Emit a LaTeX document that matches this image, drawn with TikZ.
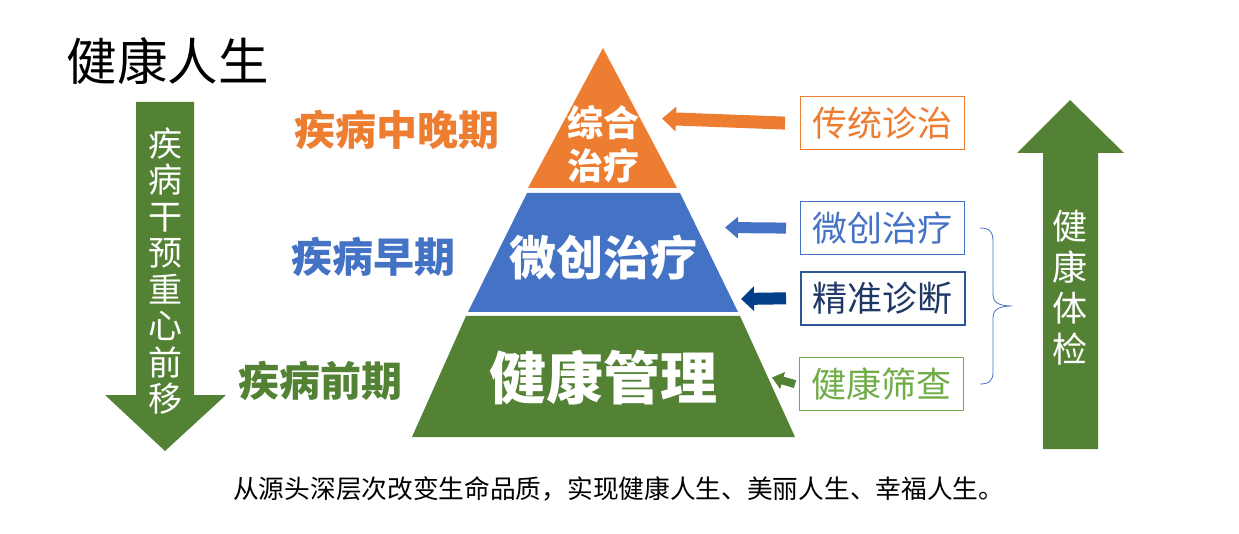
\documentclass[tikz,border=0pt]{standalone}
\usepackage{fontspec}
\setmainfont{Noto Sans CJK SC}
\usetikzlibrary{arrows.meta}
\definecolor{cor}{HTML}{ED7D31}
\definecolor{cbl}{HTML}{4472C4}
\definecolor{cgr}{HTML}{548235}
\definecolor{clg}{HTML}{70AD47}
\definecolor{cdb}{HTML}{033F88}
\definecolor{cdbb}{HTML}{2F5597}
\definecolor{cdbt}{HTML}{1F3864}
\newcommand\myfs[2]{\fontsize{#1}{#2}\selectfont}
\tikzset{
  lbox/.style={draw=#1, line width=1.2pt, minimum width=164pt, minimum height=53pt, inner sep=0pt, anchor=north west},
  lvl/.style={font=\myfs{41}{41}\bfseries, anchor=center},
}
\begin{document}
\begin{tikzpicture}[x=1pt,y=-1pt]
\useasboundingbox[fill=white] (0,0) rectangle (1239,534);
% title
\node[anchor=west, font=\myfs{50.5}{50}] (title) at (63,61) {健康人生};
% down arrow
\fill[cgr] (136,102) -- (194,102) -- (194,395) -- (226,395) -- (165,451) -- (105,395) -- (136,395) -- cycle;
\node[white, font=\myfs{34}{36.5}, align=center, inner sep=0pt] (down) at (165,271) {疾\\病\\干\\预\\重\\心\\前\\移};
% pyramid
\fill[cor] (603,48) -- (677,188) -- (528,188) -- cycle;
\fill[cbl] (527,193) -- (680,193) -- (738,312) -- (468,312) -- cycle;
\fill[cgr] (466,316) -- (740,316) -- (795,437) -- (412,437) -- cycle;
\node[white, font=\myfs{36}{43}\bfseries, align=center, inner sep=0pt] (top) at (603,144) {综合\\治疗};
\node[white, font=\myfs{47}{47}\bfseries, inner sep=0pt] (mid) at (603,258) {微创治疗};
\node[white, font=\myfs{57}{57}\bfseries, inner sep=0pt] (bot) at (603,378) {健康管理};
% level labels
\node[lvl, cor] (l1) at (397,130) {疾病中晚期};
\node[lvl, cbl] (l2) at (373,257) {疾病早期};
\node[lvl, cgr] (l3) at (320,381) {疾病前期};
% boxes
\node[lbox=cor, text=cor, font=\myfs{35}{35}] (b1) at (800,96) {传统诊治};
\node[lbox=cbl, text=cbl, font=\myfs{35}{35}] (b2) at (800,201) {微创治疗};
\node[lbox=cdbb, line width=1.6pt, text=cdbt, font=\myfs{35}{35}] (b3) at (800,271) {精准诊断};
\node[lbox=clg, text=clg, font=\myfs{35}{35}] (b4) at (799,357) {健康筛查};
% arrows
\coordinate (t1) at (662,118.5);
\coordinate (t2) at (725,227.5);
\coordinate (t3) at (741,299);
\coordinate (t4) at (772,377.5);
\draw[cor, line width=13pt, -{Triangle[length=14pt,width=24pt]}] ([xshift=-15pt]b1.west) -- (t1);
\draw[cbl, line width=11pt, -{Triangle[length=13pt,width=21pt]}] ([xshift=-14pt]b2.west) -- (t2);
\draw[cdb, line width=12pt, -{Triangle[length=13pt,width=24pt]}] ([xshift=-14pt]b3.west) -- (t3);
\draw[cgr, line width=8pt, -{Triangle[length=11pt,width=17pt]}] ([xshift=-4pt]b4.west) -- (t4);
% brace
\draw[cbl, line width=0.8pt] (980,228) .. controls (990,228) and (993,232) .. (993,242) -- (993,294) .. controls (993,302) and (998,306) .. (1012,306) .. controls (998,306) and (993,310) .. (993,318) -- (993,372) .. controls (993,380) and (990,384) .. (980,384);
% up arrow
\fill[cgr] (1043,449) -- (1098,449) -- (1098,153) -- (1124,153) -- (1070,100) -- (1017,153) -- (1043,153) -- cycle;
\node[white, font=\myfs{35}{41}, align=center, inner sep=0pt] (up) at (1070,288) {健\\康\\体\\检};
% caption
\node[anchor=west, font=\myfs{25.7}{25}, inner sep=0pt] (cap) at (233,489) {从源头深层次改变生命品质，实现健康人生、美丽人生、幸福人生。};
\end{tikzpicture}
\end{document}
